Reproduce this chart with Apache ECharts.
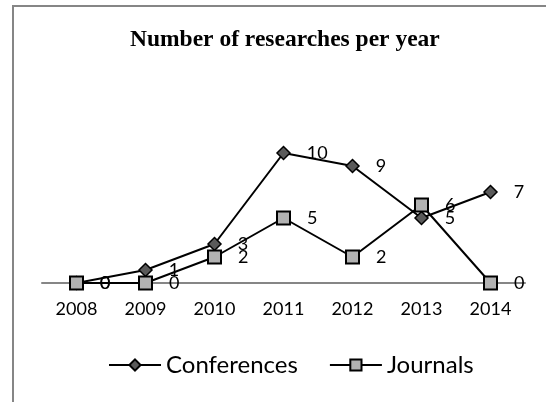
<!DOCTYPE html>
<html><head><meta charset="utf-8">
<script src="https://cdn.jsdelivr.net/npm/echarts@6/dist/echarts.min.js"></script>
<style>html,body{margin:0;padding:0;background:#fff}#c{width:546px;height:402px}</style>
</head><body><div id="c"></div>
<script>
const years = ['2008','2009','2010','2011','2012','2013','2014'];
const conferences = [0,1,3,10,9,5,7];
const journals = [0,0,2,5,2,6,0];
const seriesNames = ['Conferences','Journals'];
const titleText = 'Number of researches per year';

const FONT = 'Lato';
const chart = echarts.init(document.getElementById('c'), null, {renderer:'canvas'});
const labelCfg = {show:true, position:'right', distance:16, color:'#000', fontFamily:FONT, fontSize:18};
chart.setOption({
  animation:false,
  backgroundColor:'#fff',
  graphic:[{type:'rect', shape:{x:13,y:6,width:600,height:500}, style:{fill:'none', stroke:'#868686', lineWidth:2}, silent:true}],
  title:{text:titleText, left:125, top:23, textStyle:{fontFamily:'Liberation Serif', fontWeight:'bold', fontSize:23.5, color:'#000'}},
  legend:{data:seriesNames, left:103, top:348, itemWidth:52, itemHeight:14, itemGap:31,
    textStyle:{fontFamily:FONT, fontSize:24, color:'#000'}},
  grid:{left:42, right:21, top:127, bottom:119, containLabel:false},
  xAxis:{type:'category', data:years, boundaryGap:true,
    axisLine:{lineStyle:{color:'#868686', width:2}}, axisTick:{show:false},
    axisLabel:{color:'#000', fontFamily:FONT, fontSize:18, margin:17}},
  yAxis:{type:'value', min:0, max:12, show:false, splitLine:{show:false}},
  series:[
    {name:seriesNames[0], type:'line', data:conferences, symbol:'diamond', symbolSize:13,
      lineStyle:{color:'#000', width:2}, itemStyle:{color:'#5a5a5a', borderColor:'#000', borderWidth:1.5},
      label:labelCfg},
    {name:seriesNames[1], type:'line', data:journals, symbol:'rect', symbolSize:13,
      lineStyle:{color:'#000', width:2}, itemStyle:{color:'#b2b2b2', borderColor:'#000', borderWidth:2},
      label:labelCfg}
  ]
});
</script></body></html>
